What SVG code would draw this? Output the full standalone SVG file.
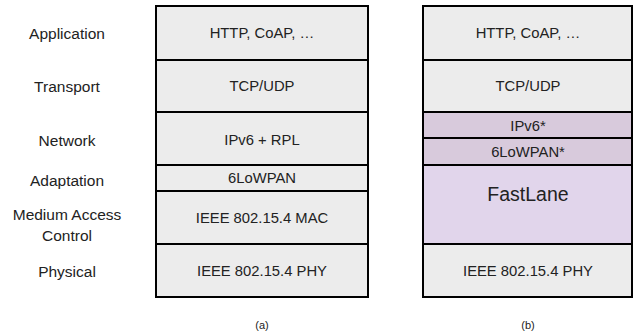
<svg xmlns="http://www.w3.org/2000/svg" width="634" height="335" viewBox="0 0 634 335">
<style>
.g{fill:#ececec;stroke:#000;stroke-width:2}
.p{fill:#d8cadc;stroke:#000;stroke-width:2}
.f{fill:#e1d5eb;stroke:#000;stroke-width:2}
text{font-family:"Liberation Sans",Arial,sans-serif;font-size:14.8px;fill:#222;text-anchor:middle;dominant-baseline:central}
.lab{font-size:15.5px}
.cap{font-size:11px}
.big{font-size:19.5px}
</style>
<rect width="634" height="335" fill="#fff"/>
<g id="labels">
<text class="lab" x="67" y="33">Application</text>
<text class="lab" x="67" y="86">Transport</text>
<text class="lab" x="67" y="140">Network</text>
<text class="lab" x="67" y="180">Adaptation</text>
<text class="lab" x="67" y="214">Medium Access</text>
<text class="lab" x="67" y="235">Control</text>
<text class="lab" x="67" y="271">Physical</text>
</g>
<g id="a-app"><rect class="g" x="156" y="6" width="212" height="54"/><text x="262" y="33">HTTP, CoAP, …</text></g>
<g id="a-transport"><rect class="g" x="156" y="60" width="212" height="52"/><text x="262" y="86">TCP/UDP</text></g>
<g id="a-network"><rect class="g" x="156" y="112" width="212" height="53"/><text x="262" y="140">IPv6 + RPL</text></g>
<g id="a-adapt"><rect class="g" x="156" y="165" width="212" height="26"/><text x="262" y="178">6LoWPAN</text></g>
<g id="a-mac"><rect class="g" x="156" y="191" width="212" height="53"/><text x="262" y="218">IEEE 802.15.4 MAC</text></g>
<g id="a-phy"><rect class="g" x="156" y="244" width="212" height="53"/><text x="262" y="271">IEEE 802.15.4 PHY</text></g>
<g id="b-app"><rect class="g" x="423" y="6" width="209" height="54"/><text x="528" y="33">HTTP, CoAP, …</text></g>
<g id="b-transport"><rect class="g" x="423" y="60" width="209" height="52"/><text x="528" y="86">TCP/UDP</text></g>
<g id="b-ipv6"><rect class="p" x="423" y="112" width="209" height="26"/><text x="528" y="126">IPv6*</text></g>
<g id="b-6lowpan"><rect class="p" x="423" y="138" width="209" height="27"/><text x="528" y="152">6LoWPAN*</text></g>
<g id="b-fastlane"><rect class="f" x="423" y="165" width="209" height="79"/><text class="big" x="528" y="194">FastLane</text></g>
<g id="b-phy"><rect class="g" x="423" y="244" width="209" height="53"/><text x="528" y="271">IEEE 802.15.4 PHY</text></g>
<g id="connectors"></g>
<g id="captions">
<text class="cap" x="262" y="325">(a)</text>
<text class="cap" x="528" y="325">(b)</text>
</g>
</svg>
